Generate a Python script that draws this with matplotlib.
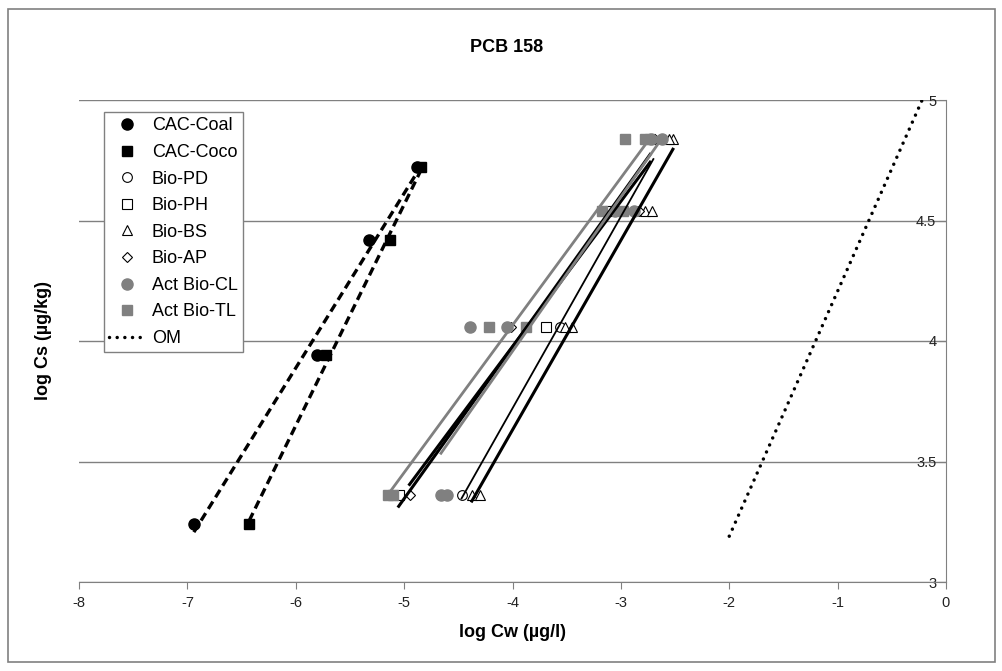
import numpy as np
import matplotlib
matplotlib.use("Agg")
import matplotlib.pyplot as plt
from matplotlib.patches import Rectangle

plt.rcParams['font.family'] = ['Liberation Sans', 'DejaVu Sans']
plt.rcParams['axes.unicode_minus'] = False

# log Cw (x) / log Cs (y)
coal_x = [-6.94, -5.80, -5.32, -4.88]
coal_y = [3.24, 3.94, 4.42, 4.72]
coco_x = [-6.43, -5.72, -5.13, -4.84]
coco_y = [3.24, 3.94, 4.42, 4.72]

pd_x = [-4.47, -3.56, -2.86, -2.70]
pd_y = [3.36, 4.06, 4.54, 4.84]
ph_x = [-5.05, -3.69, -3.10, -2.73]
ph_y = [3.36, 4.06, 4.54, 4.84]
bs_x = [-4.375, -4.30, -3.45, -3.52, -2.78, -2.71, -2.52, -2.56]
bs_y = [3.36, 3.36, 4.06, 4.06, 4.54, 4.54, 4.84, 4.84]
ap_x = [-4.95, -4.01, -2.83, -2.73]
ap_y = [3.36, 4.06, 4.54, 4.84]

cl_x = [-4.66, -4.60, -4.39, -4.05, -3.05, -2.88, -2.72, -2.62]
cl_y = [3.36, 3.36, 4.06, 4.06, 4.54, 4.54, 4.84, 4.84]
tl_x = [-5.15, -5.10, -4.22, -3.88, -3.17, -2.98, -2.96, -2.78]
tl_y = [3.36, 3.36, 4.06, 4.06, 4.54, 4.54, 4.84, 4.84]

om_x = [-2.0, -0.22]
om_y = [3.19, 5.0]

GRAY = "#808080"


def trend(ax, x, y, **kw):
    """Excel-style linear trendline over the data range"""
    x = np.asarray(x)
    coef = np.polyfit(x, np.asarray(y), 1)
    xs = np.array([x.min(), x.max()])
    ax.plot(xs, np.polyval(coef, xs), zorder=4, label="_nolegend_", **kw)


fig = plt.figure(figsize=(10.03, 6.71), dpi=100)
ax = fig.add_axes([79 / 1003, 1 - 582 / 671, 867 / 1003, 482 / 671])

ms = 8
# markers
ax.plot(coal_x, coal_y, "o", color="black", ms=ms, ls="none", label="CAC-Coal", zorder=3)
ax.plot(coco_x, coco_y, "s", color="black", ms=ms - 0.5, ls="none", label="CAC-Coco", zorder=3)
open_kw = dict(mfc="white", mec="black", mew=0.8, ls="none", zorder=3)
ax.plot(pd_x, pd_y, "o", ms=ms - 1, label="Bio-PD", **open_kw)
ax.plot(ph_x, ph_y, "s", ms=ms - 1.5, label="Bio-PH", **open_kw)
ax.plot(bs_x, bs_y, "^", ms=ms - 0.5, label="Bio-BS", **open_kw)
ax.plot(ap_x, ap_y, "D", ms=ms - 2.5, label="Bio-AP", **open_kw)
ax.plot(cl_x, cl_y, "o", color=GRAY, ms=ms, ls="none", label="Act Bio-CL", zorder=3)
ax.plot(tl_x, tl_y, "s", color=GRAY, ms=ms - 0.5, ls="none", label="Act Bio-TL", zorder=3)

# trendlines
dash = dict(color="black", lw=2.4, ls=(0, (2.6, 1.5)))
trend(ax, coal_x, coal_y, **dash)
trend(ax, coco_x, coco_y, **dash)
trend(ax, pd_x, pd_y, color="black", lw=1.3)
trend(ax, ph_x, ph_y, color="black", lw=2.2)
trend(ax, bs_x, bs_y, color="black", lw=2.2)
trend(ax, ap_x, ap_y, color="black", lw=2.2)
trend(ax, cl_x, cl_y, color=GRAY, lw=2.0)
trend(ax, tl_x, tl_y, color=GRAY, lw=2.0)

ax.plot(om_x, om_y, color="black", lw=2.5, ls=(0, (0.01, 2.2)),
        dash_capstyle="round", label="OM", zorder=4)

ax.set_xlim(-8, 0)
ax.set_ylim(3, 5)
ax.set_xticks(np.arange(-8, 1, 1))
ax.set_yticks([3, 3.5, 4, 4.5, 5])
ax.set_yticklabels(["3", "3.5", "4", "4.5", "5"])

ax.spines["left"].set_position(("data", 0))
ax.spines["top"].set_visible(False)
ax.spines["right"].set_visible(False)
ax.spines["left"].set_color(GRAY)
ax.spines["bottom"].set_color(GRAY)
ax.yaxis.grid(True, color=GRAY, lw=1.0)
ax.set_axisbelow(True)
ax.tick_params(axis="both", direction="out", length=5, color=GRAY,
               labelsize=10.5, labelcolor="#222222")
ax.tick_params(axis="x", pad=5)
ax.tick_params(axis="y", pad=2)

ax.set_xlabel("log Cw (µg/l)", fontsize=13, fontweight="bold", labelpad=10)
ax.set_ylabel("log Cs (µg/kg)", fontsize=13, fontweight="bold")
ax.yaxis.set_label_coords(-0.031, 0.5)

fig.text(0.505, 1 - 47 / 671, "PCB 158", ha="center", va="center",
         fontsize=13, fontweight="bold")

leg = ax.legend(loc="upper left", bbox_to_anchor=(25 / 867, (582 - 112) / 482),
                borderaxespad=0, fontsize=13, frameon=True, fancybox=False,
                framealpha=1, edgecolor=GRAY, handlelength=1.9,
                handletextpad=0.45, labelspacing=0.53, borderpad=0.3)
leg.get_frame().set_linewidth(1.0)

fig.patches.append(Rectangle((8 / 1003, 9 / 671), 987 / 1003, 653 / 671,
                             transform=fig.transFigure, fill=False,
                             edgecolor=GRAY, lw=1.2))

fig.savefig("out.png", dpi=100)
